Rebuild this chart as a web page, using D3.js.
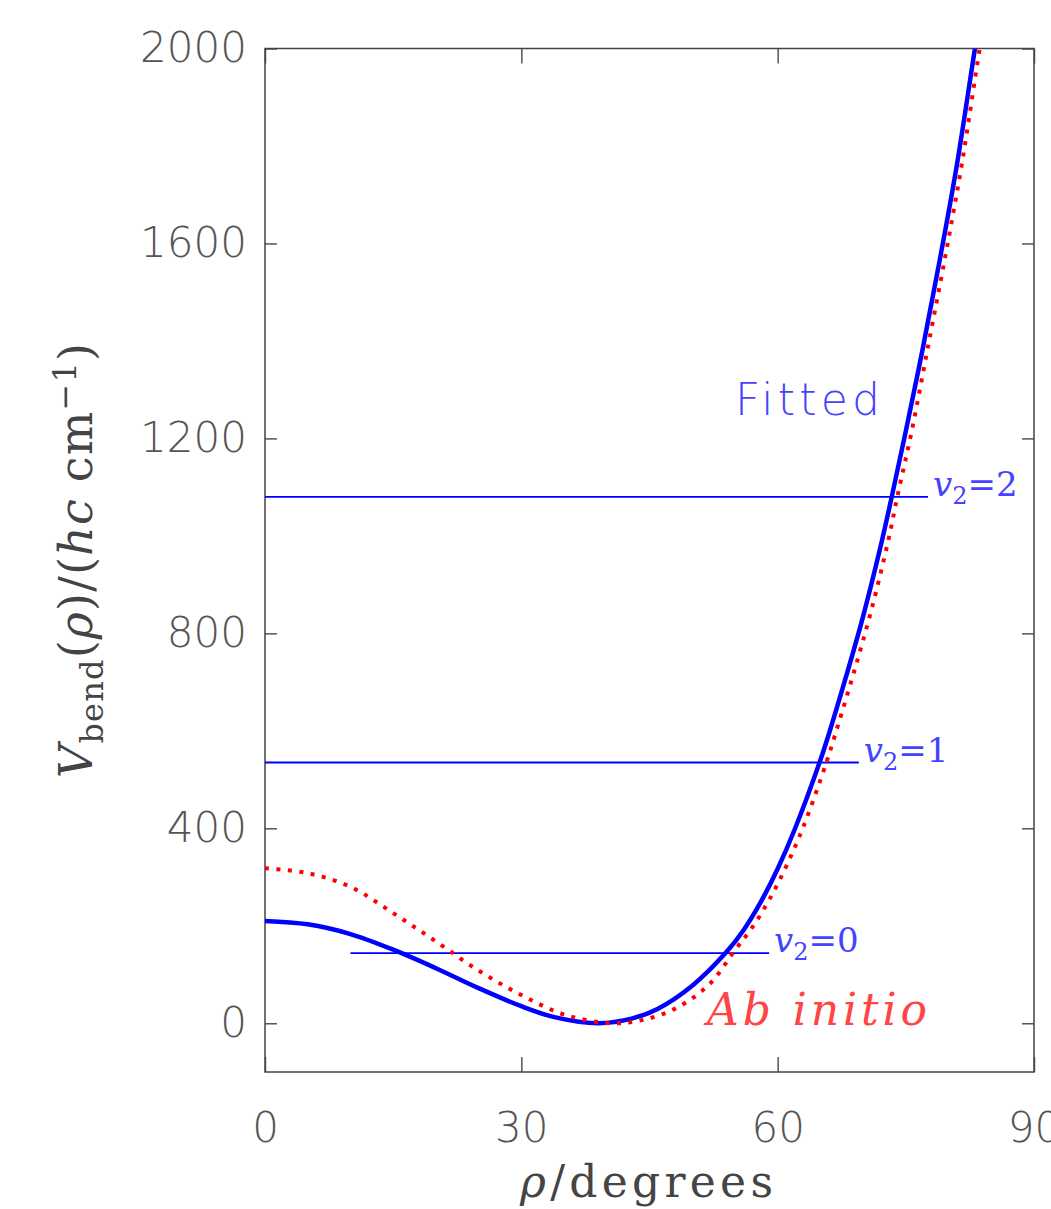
<!DOCTYPE html>
<html>
<head>
<meta charset="utf-8">
<script src="https://cdn.jsdelivr.net/npm/d3@7"></script>
<style>
  html, body { margin: 0; padding: 0; background: #fff; }
  svg { display: block; }
</style>
</head>
<body>
<svg id="chart" width="1051" height="1209"></svg>
<script>
// ---- data ----
const fittedRho = [0, 5, 10, 15, 20, 25, 30, 34, 39, 43, 46, 50, 54, 56, 58, 60, 62, 65, 66, 68, 70, 72, 73.35, 75, 77, 79, 81, 83, 84];
const fittedV   = [210, 203, 183, 151, 113, 72, 35, 12, 0, 10, 30, 77, 146, 191, 248, 317, 398, 540, 594, 711, 835, 975, 1080, 1215, 1386, 1569, 1764, 1990, 2100];

const abInitioRho = [0, 5, 10, 15, 20, 25, 30, 35, 40.5, 44, 48, 52, 55, 57, 59, 61, 63, 65.7, 67, 69, 71, 73, 74, 75.7, 77.6, 79.6, 81.6, 83.6, 84.6];
const abInitioV   = [318, 308, 280, 226, 168, 108, 58, 18, 0, 6, 30, 80, 150, 196, 253, 322, 403, 535, 608, 725, 850, 995, 1080, 1216, 1389, 1572, 1768, 1995, 2100];

const levelNames = ["0", "1", "2"];
const levelV     = [144, 535, 1080];
const levelStart = [10, 0, 0];
const levelEnd   = [59, 69.5, 77.6];

const xTicks = [0, 30, 60, 90];
const yTicks = [0, 400, 800, 1200, 1600, 2000];
const xDomain = [0, 90];
const yDomain = [-100, 2000];

// ---- drawing ----
const svg = d3.select("#chart");
const L = 265, R = 1034, T = 48.5, B = 1072;
const x = d3.scaleLinear().domain(xDomain).range([L, R]);
const y = d3.scaleLinear().domain(yDomain).range([B, T]);

const tickFont = "'DejaVu Sans', sans-serif";
const serif = "'DejaVu Serif', 'Liberation Serif', serif";
const axisColor = "#555";

svg.append("defs").append("clipPath").attr("id", "plotclip")
  .append("rect").attr("x", L).attr("y", T).attr("width", R - L).attr("height", B - T);

// axes
const gLeft = svg.append("g").attr("transform", `translate(${L},0)`)
  .call(d3.axisLeft(y).tickValues(yTicks).tickSize(-12).tickPadding(18).tickFormat(d3.format("d")));
const gRight = svg.append("g").attr("transform", `translate(${R},0)`)
  .call(d3.axisRight(y).tickValues(yTicks).tickSize(-12).tickFormat(""));
const gBottom = svg.append("g").attr("transform", `translate(0,${B})`)
  .call(d3.axisBottom(x).tickValues(xTicks).tickSize(-15).tickPadding(40).tickFormat(d3.format("d")));
const gTop = svg.append("g").attr("transform", `translate(0,${T})`)
  .call(d3.axisTop(x).tickValues(xTicks).tickSize(-15).tickFormat(""));

[gLeft, gRight, gBottom, gTop].forEach(g => {
  g.select(".domain").remove();
  g.selectAll(".tick line").attr("stroke", axisColor).attr("stroke-width", 1.5);
  g.selectAll(".tick text")
    .attr("fill", "#555")
    .style("font-family", tickFont)
    .style("font-weight", 200)
    .style("font-size", "42px");
});

// frame
svg.append("rect")
  .attr("x", L).attr("y", T).attr("width", R - L).attr("height", B - T)
  .attr("fill", "none").attr("stroke", "#444").attr("stroke-width", 1.5);

const plot = svg.append("g").attr("clip-path", "url(#plotclip)");

// vibrational levels
levelV.forEach((v, i) => {
  plot.append("line")
    .attr("x1", x(levelStart[i])).attr("x2", x(levelEnd[i]))
    .attr("y1", y(v)).attr("y2", y(v))
    .attr("stroke", "#0000ff").attr("stroke-width", 1.8);
});

const lineGen = d3.line().x(d => x(d[0])).y(d => y(d[1])).curve(d3.curveCatmullRom.alpha(0.5));

plot.append("path")
  .datum(fittedRho.map((r, i) => [r, fittedV[i]]))
  .attr("d", lineGen)
  .attr("fill", "none").attr("stroke", "#0000ff").attr("stroke-width", 4.5);

plot.append("path")
  .datum(abInitioRho.map((r, i) => [r, abInitioV[i]]))
  .attr("d", lineGen)
  .attr("fill", "none").attr("stroke", "#ff0000").attr("stroke-width", 4)
  .attr("stroke-dasharray", "4 7.5");

// level labels
levelV.forEach((v, i) => {
  const t = svg.append("text")
    .attr("x", x(levelEnd[i]) + 5).attr("y", y(v) - 1)
    .attr("fill", "#4444ff")
    .style("font-family", serif).style("font-size", "34px");
  t.append("tspan").style("font-style", "italic").text("v");
  t.append("tspan").attr("dy", 8).style("font-size", "24px").text("2");
  t.append("tspan").attr("dy", -8).text("=" + levelNames[i]);
});

svg.append("text")
  .attr("x", 735).attr("y", 415)
  .attr("fill", "#4444ff")
  .attr("textLength", 145).attr("lengthAdjust", "spacing")
  .style("font-family", tickFont).style("font-weight", 200).style("font-size", "44px")
  .text("Fitted");

svg.append("text")
  .attr("x", 707).attr("y", 1025)
  .attr("fill", "#ff4444")
  .attr("textLength", 220).attr("lengthAdjust", "spacing")
  .style("font-family", serif).style("font-style", "italic").style("font-size", "44px")
  .text("Ab initio");

// x axis title
const xt = svg.append("text")
  .attr("x", 520).attr("y", 1197)
  .attr("fill", "#444")
  .attr("textLength", 253).attr("lengthAdjust", "spacing")
  .style("font-family", serif).style("font-size", "44px");
xt.append("tspan").style("font-style", "italic").text("ρ");
xt.append("tspan").text("/degrees");

// y axis title
const yt = svg.append("text")
  .attr("transform", "translate(92,778) rotate(-90)")
  .attr("fill", "#444")
  .attr("textLength", 435).attr("lengthAdjust", "spacing")
  .style("font-family", serif).style("font-size", "46px");
yt.append("tspan").style("font-style", "italic").text("V");
yt.append("tspan").attr("dy", 11).style("font-size", "32px").text("bend");
yt.append("tspan").attr("dy", -11).text("(");
yt.append("tspan").style("font-style", "italic").text("ρ");
yt.append("tspan").text(")/(");
yt.append("tspan").style("font-style", "italic").text("hc");
yt.append("tspan").text(" cm");
yt.append("tspan").attr("dy", -16).style("font-size", "32px").text("−1");
yt.append("tspan").attr("dy", 16).text(")");
</script>
</body>
</html>
